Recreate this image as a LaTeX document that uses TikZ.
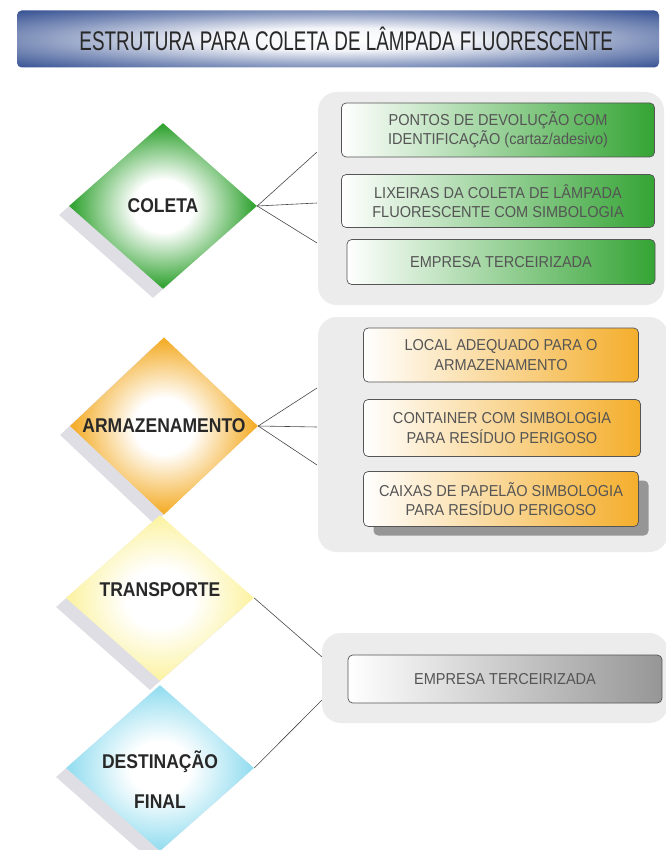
\documentclass[tikz,border=0pt]{standalone}
\usepackage{fontspec}
\setmainfont{Liberation Sans}
\newfontfamily\titlefont{Liberation Sans}[FakeStretch=0.70]
\newfontfamily\stagefont{Liberation Sans}[FakeStretch=0.88]
\newfontfamily\boxfont{Liberation Sans}[FakeStretch=0.92]
\usetikzlibrary{shapes.geometric,shadows}

\definecolor{titleblue}{RGB}{50,78,145}
\definecolor{panelgray}{RGB}{236,236,236}
\definecolor{shadowgray}{RGB}{222,222,228}
\definecolor{coletagreen}{RGB}{52,164,52}
\definecolor{armorange}{RGB}{244,174,44}
\definecolor{transyellow}{RGB}{252,243,165}
\definecolor{destcyan}{RGB}{150,222,240}
\definecolor{boxgray}{RGB}{150,150,150}
\definecolor{edgegray}{RGB}{85,85,85}
\definecolor{linegray}{RGB}{70,70,70}
\definecolor{labeltext}{RGB}{40,40,40}
\definecolor{boxtext}{RGB}{85,85,85}

\newcommand{\pxl}{0.03cm}

\pgfdeclareradialshading{titleshade}{\pgfpoint{0bp}{0bp}}{color(0bp)=(white); color(10bp)=(white!94!titleblue); color(24bp)=(titleblue!60); color(36bp)=(titleblue); color(100bp)=(titleblue)}
\pgfdeclareradialshading{coletashade}{\pgfpoint{0bp}{0bp}}{color(0bp)=(white); color(8bp)=(white); color(24bp)=(coletagreen); color(100bp)=(coletagreen)}
\pgfdeclareradialshading{armshade}{\pgfpoint{0bp}{0bp}}{color(0bp)=(white); color(8bp)=(white); color(24bp)=(armorange); color(100bp)=(armorange)}
\pgfdeclareradialshading{transshade}{\pgfpoint{0bp}{0bp}}{color(0bp)=(white); color(9bp)=(white); color(24bp)=(transyellow); color(100bp)=(transyellow)}
\pgfdeclareradialshading{destshade}{\pgfpoint{0bp}{0bp}}{color(0bp)=(white); color(8bp)=(white); color(24bp)=(destcyan); color(100bp)=(destcyan)}

\tikzstyle{titlebar}=[rectangle, rounded corners=4pt, shade, shading=titleshade, minimum width=642*\pxl, minimum height=57*\pxl, font=\titlefont\fontsize{23}{26}\selectfont, text=labeltext]
\tikzstyle{panel}=[fill=panelgray, rounded corners=16pt]
\tikzstyle{stagelabel}=[font=\stagefont\bfseries\fontsize{17}{20}\selectfont, text=labeltext, align=center]
\tikzstyle{stage}=[diamond, inner sep=0pt, minimum width=188*\pxl, minimum height=166*\pxl, shade, stagelabel, drop shadow={shadow xshift=-0.3cm, shadow yshift=-0.27cm, fill=shadowgray, opacity=1}]
\tikzstyle{item}=[rectangle, draw=edgegray, line width=0.6pt, rounded corners=4pt, align=center, inner sep=0pt, font=\boxfont\fontsize{13.5}{16.5}\selectfont, text=boxtext]
\tikzstyle{greenitem}=[item, left color=white, middle color=coletagreen!20, right color=coletagreen]
\tikzstyle{orangeitem}=[item, left color=white, middle color=armorange!28, right color=armorange]
\tikzstyle{grayitem}=[item, left color=white, middle color=boxgray!18, right color=boxgray]
\tikzstyle{link}=[draw=linegray, line width=0.5pt]

\begin{document}
\begin{tikzpicture}[x=\pxl, y=-\pxl]
  \useasboundingbox (0,0) rectangle (665,850);
  \fill[white] (0,0) rectangle (665,850);

  \node[titlebar] (title) at (338,39) {\hspace*{14pt}ESTRUTURA PARA COLETA DE LÂMPADA FLUORESCENTE};

  % gray panels behind the boxes
  \fill[panel] (318,92) rectangle (664,305);
  \fill[panel] (318,317) rectangle (668,552);
  \fill[panel] (322,633) rectangle (668,723);

  % stages
  \node[stage, shading=coletashade] (coleta) at (163,206) {COLETA};
  \node[stage, shading=armshade] (armazenamento) at (164,426) {ARMAZENAMENTO};
  \node[stage, shading=transshade, label={[stagelabel, yshift=6.8pt]center:TRANSPORTE}] (transporte) at (160,598) {};
  \node[stage, shading=destshade, label={[stagelabel, yshift=-10pt]center:DESTINAÇÃO\\[14pt]FINAL}] (destinacao) at (160,768) {};

  % boxes
  \node[greenitem, minimum width=313*\pxl, minimum height=54*\pxl] (devolucao) at (498,130) {PONTOS DE DEVOLUÇÃO COM\\IDENTIFICAÇÃO (cartaz/adesivo)};
  \node[greenitem, minimum width=313*\pxl, minimum height=53*\pxl] (lixeiras) at (498,201) {LIXEIRAS DA COLETA DE LÂMPADA\\FLUORESCENTE COM SIMBOLOGIA};
  \node[greenitem, minimum width=308*\pxl, minimum height=45*\pxl] (empresacoleta) at (501,262) {EMPRESA TERCEIRIZADA};

  \node[orangeitem, minimum width=275*\pxl, minimum height=54*\pxl] (local) at (501,355) {LOCAL ADEQUADO PARA O\\ARMAZENAMENTO};
  \node[orangeitem, minimum width=277*\pxl, minimum height=57*\pxl] (container) at (502,428) {CONTAINER COM SIMBOLOGIA\\PARA RESÍDUO PERIGOSO};
  \node[orangeitem, minimum width=275*\pxl, minimum height=55*\pxl, drop shadow={shadow xshift=0.3cm, shadow yshift=-0.27cm, fill=boxgray, opacity=1}] (caixas) at (501,499) {CAIXAS DE PAPELÃO SIMBOLOGIA\\PARA RESÍDUO PERIGOSO};

  \node[grayitem, minimum width=314*\pxl, minimum height=48*\pxl] (empresatransp) at (505,679) {EMPRESA TERCEIRIZADA};

  % connectors
  \coordinate (coletaA) at (317,152);
  \coordinate (coletaB) at (317,203);
  \coordinate (coletaC) at (317,243);
  \coordinate (armA) at (317,388);
  \coordinate (armB) at (317,427);
  \coordinate (armC) at (317,465);
  \coordinate (transpA) at (322,657);
  \coordinate (transpB) at (322,700);

  \draw[link] (coleta.east) -- (coletaA);
  \draw[link] (coleta.east) -- (coletaB);
  \draw[link] (coleta.east) -- (coletaC);
  \draw[link] (armazenamento.east) -- (armA);
  \draw[link] (armazenamento.east) -- (armB);
  \draw[link] (armazenamento.east) -- (armC);
  \draw[link] (transporte.east) -- (transpA);
  \draw[link] (destinacao.east) -- (transpB);
\end{tikzpicture}
\end{document}
